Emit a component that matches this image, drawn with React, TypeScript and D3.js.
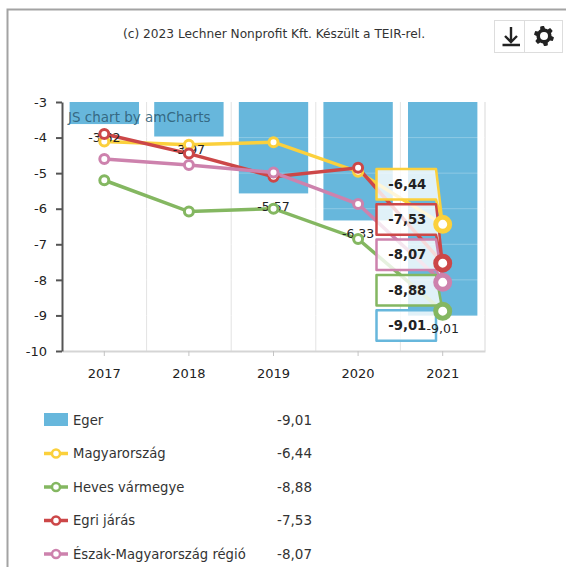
import { useEffect, useRef } from 'react';
import * as d3 from 'd3';

const years = ['2017', '2018', '2019', '2020', '2021'];
const yTicks = [-3, -4, -5, -6, -7, -8, -9, -10];

const egerValues = [-3.62, -3.97, -5.57, -6.33, -9.01];
const magyarValues = [-4.11, -4.2, -4.13, -4.96, -6.44];
const hevesValues = [-5.2, -6.08, -6.0, -6.85, -8.88];
const egriValues = [-3.9, -4.45, -5.1, -4.85, -7.53];
const eszakValues = [-4.6, -4.77, -4.98, -5.87, -8.07];

const lineSeries = [
  { name: 'Magyarország', color: '#fbd03c', values: magyarValues },
  { name: 'Heves vármegye', color: '#84b761', values: hevesValues },
  { name: 'Egri járás', color: '#cc4748', values: egriValues },
  { name: 'Észak-Magyarország régió', color: '#cd82ad', values: eszakValues },
];
const barColor = '#67b7dc';
const fontFamily = 'Verdana, "DejaVu Sans", sans-serif';

const fmt = (v: number) => v.toFixed(2).replace('.', ',');

export default function App() {
  const svgRef = useRef<SVGSVGElement>(null);

  useEffect(() => {
    if (!svgRef.current) return;
    const svg = d3.select(svgRef.current);
    svg.selectAll('*').remove();
    svg.style('font-family', fontFamily);

    // frame
    svg.append('path')
      .attr('d', 'M7.5,567 V9.5 H566')
      .attr('fill', 'none')
      .attr('stroke', '#a3a3a3')
      .attr('stroke-width', 2);

    svg.append('text')
      .attr('x', 274).attr('y', 38)
      .attr('text-anchor', 'middle')
      .attr('font-size', 12.2)
      .attr('fill', '#333')
      .text('(c) 2023 Lechner Nonprofit Kft. Készült a TEIR-rel.');

    // buttons
    const buttons = svg.append('g');
    buttons.append('rect').attr('x', 494.5).attr('y', 20.5).attr('width', 30).attr('height', 32)
      .attr('fill', '#fff').attr('stroke', '#ddd');
    buttons.append('rect').attr('x', 524.5).attr('y', 20.5).attr('width', 38).attr('height', 32)
      .attr('fill', '#fff').attr('stroke', '#ddd');
    buttons.append('path')
      .attr('d', 'M511,27 V41 M505,36 L511,42 L517,36 M502.5,45 H520')
      .attr('fill', 'none').attr('stroke', '#222').attr('stroke-width', 2.4);
    const gearPts: [number, number][] = d3.range(0, 48).map(i => {
      const a = (i / 48) * Math.PI * 2;
      const phase = ((i + 3) % 8) / 8;
      return [a, phase < 0.5 ? 10 : 7.5];
    });
    buttons.append('path')
      .attr('transform', 'translate(544,36)')
      .attr('d', (d3.lineRadial().curve(d3.curveLinearClosed)(gearPts) ?? '') + ' M4,0 A4,4 0 1,0 -4,0 A4,4 0 1,0 4,0 Z')
      .attr('fill', '#222').attr('fill-rule', 'evenodd');

    // scales
    const plot = { left: 62, right: 485, top: 102, bottom: 351 };
    const x = d3.scaleBand<string>().domain(years).range([plot.left, plot.right]).paddingInner(0.18).paddingOuter(0.09);
    const xCenter = (y: string) => (x(y) ?? 0) + x.bandwidth() / 2;
    const step = (plot.right - plot.left) / years.length;
    const y = d3.scaleLinear().domain([-10, -3]).range([plot.bottom, plot.top]);

    // vertical grid lines between the categories
    svg.append('g').selectAll('line')
      .data(years)
      .join('line')
      .attr('x1', (_, i) => plot.left + step * (i + 1))
      .attr('x2', (_, i) => plot.left + step * (i + 1))
      .attr('y1', plot.top).attr('y2', plot.bottom)
      .attr('stroke', (_, i) => (i === years.length - 1 ? '#ececec' : '#e3e3e3'))
      .attr('stroke-width', (_, i) => (i === years.length - 1 ? 2 : 1));

    // bars
    svg.append('g').selectAll('rect')
      .data(egerValues)
      .join('rect')
      .attr('x', (_, i) => x(years[i]) ?? 0)
      .attr('width', x.bandwidth())
      .attr('y', y(-3))
      .attr('height', d => y(d) - y(-3))
      .attr('fill', barColor);

    // horizontal grid lines, only faintly visible over the bars
    svg.append('g').selectAll('line')
      .data(yTicks.slice(1, -1))
      .join('line')
      .attr('x1', plot.left).attr('x2', plot.right)
      .attr('y1', d => y(d)).attr('y2', d => y(d))
      .attr('stroke', '#fff').attr('stroke-opacity', 0.25);

    // axes
    const xAxis = svg.append('g')
      .attr('transform', `translate(0,${plot.bottom})`)
      .call(d3.axisBottom(x).tickSize(5).tickSizeOuter(0).tickPadding(13));
    xAxis.select('path').attr('stroke', '#d5d5d5').attr('stroke-width', 2);
    xAxis.selectAll('line').attr('stroke', '#c4c4c4');
    xAxis.selectAll('text').attr('font-size', 13).attr('fill', '#222').attr('font-family', fontFamily);

    const yAxis = svg.append('g')
      .attr('transform', `translate(${plot.left},0)`)
      .call(d3.axisLeft(y).tickValues(yTicks).tickSize(6).tickSizeOuter(0).tickPadding(9).tickFormat(d => String(d)));
    yAxis.selectAll('path,line').attr('stroke', '#555').attr('stroke-width', 2);
    yAxis.selectAll('text').attr('font-size', 13).attr('fill', '#222').attr('font-family', fontFamily);

    // watermark
    svg.append('text')
      .attr('x', 68).attr('y', 122)
      .attr('font-size', 13.5)
      .attr('fill', '#2f5f78')
      .attr('fill-opacity', 0.9)
      .text('JS chart by amCharts');

    // lines
    const line = d3.line<number>().x((_, i) => xCenter(years[i])).y(d => y(d));
    lineSeries.forEach(s => {
      svg.append('path')
        .attr('d', line(s.values))
        .attr('fill', 'none')
        .attr('stroke', s.color)
        .attr('stroke-width', 3.5);
    });

    // bar value labels, the last one goes on top of the balloons
    const barLabel = (parent: d3.Selection<any, any, any, any>, v: number, i: number) =>
      parent.append('text')
        .attr('x', xCenter(years[i]))
        .attr('y', y(v) + 17.5)
        .attr('text-anchor', 'middle')
        .attr('font-size', 12.5)
        .attr('fill', '#222')
        .text(fmt(v));
    egerValues.slice(0, -1).forEach((v, i) => barLabel(svg, v, i));

    // bullets
    lineSeries.forEach(s => {
      svg.append('g').selectAll('circle')
        .data(s.values.slice(0, -1))
        .join('circle')
        .attr('cx', (_, i) => xCenter(years[i]))
        .attr('cy', d => y(d))
        .attr('r', 4.5)
        .attr('fill', '#fff')
        .attr('stroke', s.color)
        .attr('stroke-width', 3);
    });

    // balloons stacked next to the last category
    const balloons = [
      { value: magyarValues[4], color: lineSeries[0].color },
      { value: egriValues[4], color: lineSeries[2].color },
      { value: eszakValues[4], color: lineSeries[3].color },
      { value: hevesValues[4], color: lineSeries[1].color },
      { value: egerValues[4], color: barColor },
    ];
    const bx0 = 376.5, bx1 = 436, bh = 30.5, bTop = 169, bStep = 35.3;
    const tipX = xCenter('2021');
    balloons.forEach((b, i) => {
      const top = bTop + i * bStep;
      const tipY = y(b.value);
      const bottom = top + bh;
      const pointer = b.color !== barColor ? `L${tipX},${tipY} ` : '';
      svg.append('path')
        .attr('d', `M${bx0},${top} H${bx1} ${pointer}L${bx1},${bottom} H${bx0} Z`)
        .attr('fill', '#fff')
        .attr('fill-opacity', 0.8)
        .attr('stroke', b.color)
        .attr('stroke-width', 2.5)
        .attr('stroke-linejoin', 'round');
      svg.append('text')
        .attr('x', (bx0 + bx1) / 2 + 1)
        .attr('y', top + bh / 2 + 4.5)
        .attr('text-anchor', 'middle')
        .attr('font-size', 13.2)
        .attr('font-weight', 'bold')
        .attr('fill', '#222')
        .text(fmt(b.value));
    });

    // big bullets on the last category
    lineSeries.forEach(s => {
      svg.append('circle')
        .attr('cx', tipX)
        .attr('cy', y(s.values[4]))
        .attr('r', 7)
        .attr('fill', '#fff')
        .attr('stroke', s.color)
        .attr('stroke-width', 5);
    });
    barLabel(svg, egerValues[4], 4);

    // legend
    const legendY = d3.scalePoint<number>().domain([0, 1, 2, 3, 4]).range([420, 554]);
    const legendItems = [
      { name: 'Eger', color: barColor, value: egerValues[4], isBar: true },
      ...lineSeries.map(s => ({ name: s.name, color: s.color, value: s.values[4], isBar: false })),
    ];
    legendItems.forEach((item, i) => {
      const ly = legendY(i) ?? 0;
      const g = svg.append('g');
      if (item.isBar) {
        g.append('rect').attr('x', 44).attr('y', ly - 7).attr('width', 24).attr('height', 13).attr('fill', item.color);
      } else {
        g.append('line').attr('x1', 44).attr('x2', 68).attr('y1', ly).attr('y2', ly)
          .attr('stroke', item.color).attr('stroke-width', 3.5);
        g.append('circle').attr('cx', 56).attr('cy', ly).attr('r', 4)
          .attr('fill', '#fff').attr('stroke', item.color).attr('stroke-width', 2.5);
      }
      g.append('text').attr('x', 73).attr('y', ly + 4.5)
        .attr('font-size', 13.2).attr('fill', '#333').text(item.name);
      g.append('text').attr('x', 312).attr('y', ly + 4.5)
        .attr('text-anchor', 'end')
        .attr('font-size', 13.5).attr('fill', '#333').text(fmt(item.value));
    });
  }, []);

  return (
    <svg
      ref={svgRef}
      width={566}
      height={567}
      style={{ position: 'absolute', left: 0, top: 0, background: '#fff' }}
    />
  );
}
